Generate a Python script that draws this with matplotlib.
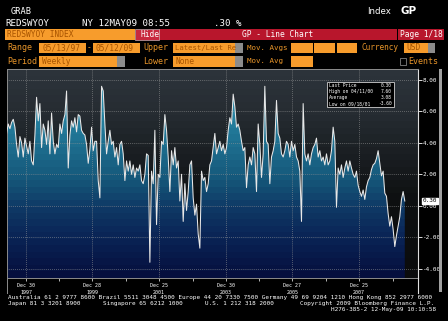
import datetime as dt
import numpy as np
import matplotlib
matplotlib.use('Agg')
import matplotlib.pyplot as plt
import matplotlib.dates as mdates
import matplotlib.transforms as mtransforms
from matplotlib.colors import LinearSegmentedColormap
from matplotlib.patches import Rectangle, Polygon
from matplotlib.lines import Line2D

W, H = 448, 321

# weekly REDSWYOY readings (sampled along the chart, 05/13/97 .. 05/12/09)
values = [
    3.4, 4.6, 5.2, 4.9, 5.3, 5.5, 5.0, 3.9, 3.1, 4.4, 4.0, 3.1, 4.3, 3.8, 3.3, 4.1,
    2.85, 2.6, 4.5, 6.9, 5.4, 6.5, 3.7, 5.2, 4.8, 3.9, 5.4, 3.3, 5.9, 4.1, 3.3, 3.9,
    3.7, 5.2, 4.6, 5.4, 5.8, 7.3, 2.4, 4.5, 5.4, 5.0, 5.6, 4.7, 5.8, 5.7, 4.8, 4.6,
    4.5, 3.9, 2.7, 3.6, 5.0, 3.5, 4.1, 4.1, 1.6, 0.5, 7.6, 7.3, 5.2, 3.3, 4.1, 4.8,
    3.9, 4.1, 3.1, 3.7, 2.6, 3.9, 4.1, 3.3, 1.6, 2.85, 2.2, 2.85, 2.0, 2.6, 1.8, 2.4,
    2.2, 2.6, 1.6, 1.4, 2.0, 3.3, 3.2,
    -3.6, 2.2, 1.4, 4.8, -1.2, 2.0, 1.8, 4.1, 3.9, 5.8, 4.8, 3.1, 0.9, 3.5, 2.6, 3.7,
    2.4, 2.85, 0.3, 2.0, -1.0, 1.4, -0.3, 0.9, 2.6, 2.85, 0.5, -0.6, 0.1, -1.8, -2.7, 2.2,
    1.6, 1.8, 0.9, 1.4, 2.6, 2.85, 3.7, 4.6, 3.3, 3.7, 4.1, 3.5, 3.9, 3.3, 3.7, 4.8,
    5.6, 5.2, 7.1, 6.3, 5.0, 5.2, 4.8, 4.1, 3.5, 3.7, 1.15, 2.6, 3.1, 2.6, 3.7, 3.3,
    0.9, 5.2, 3.9, 1.8, 3.3, 7.6, 4.1, 3.9, 1.4, 3.1, 3.5, 4.1, 6.7, 4.6, 4.3, 3.3,
    3.1, 3.5, 4.1, 3.9,
    3.1, 4.1, 3.5, 3.9, 3.1, 2.85, 2.2, -1.0, 6.5, 3.3, 2.85, 3.3, 2.6, 3.3, 3.7, 3.9,
    4.3, 3.1, 3.5, 2.85, 3.1, 2.6, 3.3, 2.6, 2.85, 3.5, 5.0, 4.1, -0.1, 2.4, 2.0, 2.6,
    1.8, 2.4, 2.85, 2.2, 2.85, 2.4, 2.0, 1.8, 2.2,
    1.3, 0.9, 0.6, 1.0, 0.4, 1.2, 1.6, 1.8, 2.3, 2.6, 2.7, 3.0, 3.5, 2.7, 1.9, 2.2,
    0.8, 0.6, -0.5, -1.3, -0.7, -1.5, -2.6, -1.9, -1.3, -0.7, 0.4, 0.9, 0.3,
]
start_date = dt.date(1997, 5, 13)
end_date = dt.date(2009, 5, 12)

tick_dates = [dt.date(1997, 12, 30), dt.date(1999, 12, 28), dt.date(2001, 12, 25),
              dt.date(2003, 12, 30), dt.date(2005, 12, 27), dt.date(2007, 12, 25)]
tick_labels = ["Dec 30\n1997", "Dec 28\n1999", "Dec 25\n2001",
               "Dec 30\n2003", "Dec 27\n2005", "Dec 25\n2007"]
minor_dates = [dt.date(1998, 12, 29), dt.date(2000, 12, 26), dt.date(2002, 12, 31),
               dt.date(2004, 12, 28), dt.date(2006, 12, 26), dt.date(2008, 12, 30)]
y_ticks = [-4, -2, 0, 2, 4, 6, 8]
legend_rows = [("Last Price", "0.30"), ("High on 04/11/00", "7.60"),
               ("Average", "3.08"), ("Low on 09/18/01", "-3.60")]
last_price = 0.30

ORANGE = '#f79c2c'
ORANGE_TXT = '#e8952a'
BOX_TXT = '#a85400'
RED = '#b8162c'
MONO = 'DejaVu Sans Mono'

fig = plt.figure(figsize=(W / 100, H / 100), dpi=100, facecolor='black')


def rect(x0, y0, x1, y1, color, **kw):
    fig.add_artist(Rectangle((x0 / W, 1 - y1 / H), (x1 - x0) / W, (y1 - y0) / H,
                             transform=fig.transFigure, facecolor=color, **kw))


def text(x, y, s, size=5.8, color='white', **kw):
    kw.setdefault('family', MONO)
    fig.text(x / W, 1 - y / H, s, fontsize=size, color=color, va='center', **kw)


def vline(x, y0, y1, color, lw=0.8):
    fig.add_artist(Line2D([x / W, x / W], [1 - y0 / H, 1 - y1 / H],
                          transform=fig.transFigure, color=color, lw=lw))


# ---- header ----
text(11, 12, "GRAB", size=6.2)
text(5, 23, "REDSWYOY", size=6.6)
text(82, 23, "NY 12MAY09 08:55", size=6.6)
text(214, 23, ".30 %", size=6.6)
text(367, 11, "Index", size=6.2, family='DejaVu Sans')
text(400, 11, "GP", size=7.5, family='DejaVu Sans', weight='bold')

# row 1
rect(5, 29, 135, 40, ORANGE)
text(7, 34.5, "REDSWYOY INDEX", size=5.7, color=BOX_TXT)
rect(159, 29, 397, 40, RED)
rect(135, 29, 159, 40, '#c8283e', edgecolor='#d8d8d8', linewidth=0.4)
text(140, 34.5, "Hide", size=5.7)
text(278, 34.5, "GP - Line Chart", size=5.7, ha='center')
rect(398, 29, 444, 40, RED)
text(421, 34.5, "Page 1/18", size=5.7, ha='center')

# row 2
y2 = 48
text(7, y2, "Range", size=6, color=ORANGE_TXT)
rect(39, 43, 86, 53, ORANGE)
text(42, y2, "05/13/97", size=5.7, color=BOX_TXT)
text(87, y2, "-", size=5.7, color=ORANGE_TXT)
rect(93, 43, 140, 53, ORANGE)
text(95, y2, "05/12/09", size=5.7, color=BOX_TXT)
text(143, y2, "Upper", size=6, color=ORANGE_TXT)
rect(173, 43, 243, 53, ORANGE)
rect(235, 43, 243, 53, '#8c8c8c')
text(175, y2, "Latest/Last Re", size=5.2, color=BOX_TXT)
text(247, y2, "Mov. Avgs", size=5.4, color=ORANGE_TXT)
for bx0, bx1 in [(291, 313), (314, 335), (337, 357)]:
    rect(bx0, 43, bx1, 53, ORANGE)
text(361, y2, "Currency", size=5.6, color=ORANGE_TXT)
rect(404, 43, 435, 53, ORANGE)
rect(428, 43, 435, 53, '#8c8c8c')
text(406, y2, "USD", size=5.7, color=BOX_TXT)

# row 3
y3 = 61.5
text(7, y3, "Period", size=6, color=ORANGE_TXT)
rect(39, 56, 125, 67, ORANGE)
rect(117, 56, 125, 67, '#8c8c8c')
text(42, y3, "Weekly", size=5.7, color=BOX_TXT)
text(143, y3, "Lower", size=6, color=ORANGE_TXT)
rect(173, 56, 243, 67, ORANGE)
rect(235, 56, 243, 67, '#8c8c8c')
text(175, y3, "None", size=5.7, color=BOX_TXT)
text(247, y3, "Mov. Avg", size=5.4, color=ORANGE_TXT)
rect(291, 56, 313, 67, ORANGE)
rect(400, 58, 406, 65, 'black', edgecolor='#9a9a9a', linewidth=0.5)
text(408, y3, "Events", size=6, color=ORANGE_TXT)

# ---- chart ----
px0, px1, py0, py1 = 7, 418, 69, 278
ax = fig.add_axes([px0 / W, 1 - py1 / H, (px1 - px0) / W, (py1 - py0) / H])
ax.set_facecolor('black')

t0, t1 = mdates.date2num(start_date), mdates.date2num(end_date)
x = np.linspace(t0, t1, len(values))
y = np.array(values)

# chart x scale: Dec 1997 tick sits at px 26, 33.33 px per year
d_ref = mdates.date2num(tick_dates[0])
xl0 = d_ref - (26 - px0) / 33.33 * 365.25
xl1 = d_ref + (px1 - 26) / 33.33 * 365.25
ymin, ymax = -4.6, 8.7
ax.set_xlim(xl0, xl1)
ax.set_ylim(ymin, ymax)


def banded(stops, step=0.42):
    cm = LinearSegmentedColormap.from_list(
        'c', [((v - ymin) / (ymax - ymin), c) for v, c in stops])
    centers = np.arange(ymin + step / 2, ymax, step)
    img = cm((centers - ymin) / (ymax - ymin))[:, None, :3]
    return img


bg = banded([(-4.6, '#0b0c0d'), (0.5, '#0e1011'), (2, '#15181b'), (4, '#1d2226'),
             (6, '#262c32'), (8.7, '#2d343b')])
ax.imshow(bg, extent=(xl0, xl1, ymin, ymax), origin='lower', aspect='auto',
          interpolation='nearest', zorder=0)

fill = banded([(-4.6, '#050e3c'), (-2, '#0a2456'), (0, '#0f3a66'), (2, '#165a7c'),
               (4, '#1e6f8f'), (6, '#2784a3'), (8.7, '#3198b8')])
im = ax.imshow(fill, extent=(xl0, xl1, ymin, ymax), origin='lower', aspect='auto',
               interpolation='nearest', zorder=0.5)
verts = np.column_stack([np.r_[x[0], x, x[-1]], np.r_[ymin, y, ymin]])
poly = Polygon(verts, closed=True, facecolor='none', edgecolor='none')
ax.add_patch(poly)
im.set_clip_path(poly)

ax.plot(x, y, color='#e8e8e8', lw=0.75, zorder=3)

# axes, ticks, grid
ax.set_xticks([mdates.date2num(d) for d in tick_dates])
ax.set_xticklabels(tick_labels, family=MONO, linespacing=1.5)
ax.set_xticks([mdates.date2num(d) for d in minor_dates], minor=True)
ax.tick_params(axis='x', which='both', colors='white', labelsize=3.6,
               length=2, width=0.5, pad=1.5)
ax.yaxis.tick_right()
ax.set_yticks(y_ticks)
ax.set_yticklabels([f"{v:.2f}" for v in y_ticks], family=MONO)
ax.tick_params(axis='y', colors='white', labelsize=4.3, length=3, width=0.6, pad=0.5)
ax.grid(True, color='#9a9a9a', linestyle=(0, (1, 1.8)), lw=0.5)

for side in ['left', 'bottom', 'top']:
    ax.spines[side].set_color('#8c8c8c')
    ax.spines[side].set_linewidth(0.7)
ax.spines['right'].set_color('#e0e0e0')
ax.spines['right'].set_linewidth(0.8)

vline(6.5, 278, 293, '#8c8c8c', lw=0.7)
vline(418, 278, 293, '#e0e0e0')
rect(439, 69, 442, 292, '#a0a0a0')

# last price tag
blend = mtransforms.blended_transform_factory(ax.transAxes, ax.transData)
ax.text(1.012, last_price, f"{last_price:.2f}", transform=blend, fontsize=4.3,
        family=MONO, color='black', va='center', ha='left', zorder=5, clip_on=False,
        bbox=dict(boxstyle='square,pad=0.15', facecolor='white', edgecolor='white'))

# info box
rect(327, 82, 394, 107, 'black', edgecolor='#d0d0d0', linewidth=0.6, zorder=5)
for i, (lab, val) in enumerate(legend_rows):
    yy = 85.5 + i * 6.1
    fig.text(329 / W, 1 - yy / H, lab, fontsize=3.3, family=MONO, color='white',
             va='center', zorder=6)
    fig.text(392 / W, 1 - yy / H, val, fontsize=3.3, family=MONO, color='white',
             va='center', ha='right', zorder=6)

# ---- footer ----
text(8, 297.5, "Australia 61 2 9777 8600 Brazil 5511 3048 4500 Europe 44 20 7330 7500 "
     "Germany 49 69 9204 1210 Hong Kong 852 2977 6000", size=4.35)
text(8, 303.5, "Japan 81 3 3201 8900", size=4.35)
text(103, 303.5, "Singapore 65 6212 1000", size=4.35)
text(205, 303.5, "U.S. 1 212 318 2000", size=4.35)
text(434, 303.5, "Copyright 2009 Bloomberg Finance L.P.", size=4.35, ha='right')
text(436, 309.8, "H276-385-2 12-May-09 10:10:58", size=4.35, ha='right')

fig.savefig('out.png', dpi=100, facecolor='black')
